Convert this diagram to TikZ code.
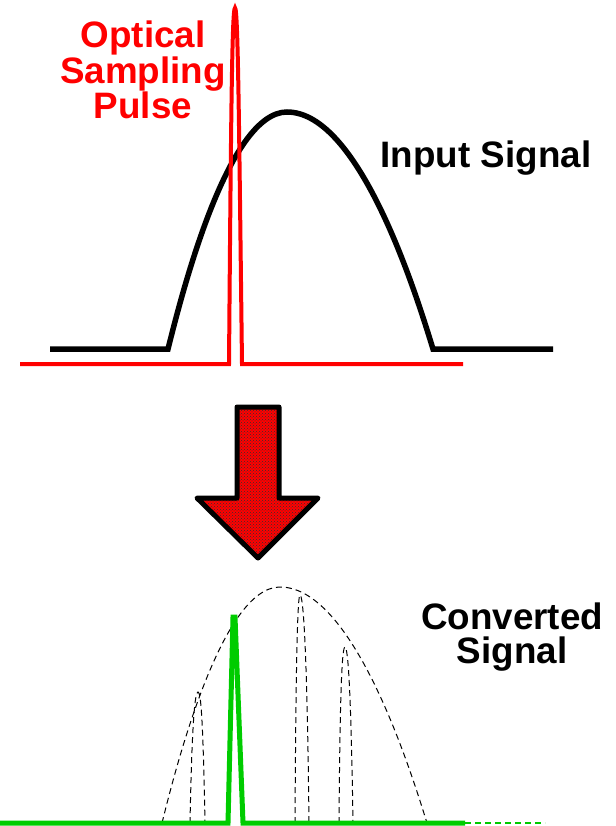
\documentclass[tikz,border=0pt]{standalone}
\usepackage{fontspec}
\setmainfont{Liberation Sans}
\usetikzlibrary{patterns}

\begin{document}
\begin{tikzpicture}[
  x=1pt, y=-1pt,
  sig/.style={line width=5.5pt, black},
  pulse/.style={line width=4pt, red},
  conv/.style={line width=5pt, green!80!black},
  env/.style={line width=1pt, dash pattern=on 6pt off 4pt, black},
  lbl/.style={font=\fontsize{36.8}{34}\selectfont\bfseries, align=center, inner sep=0pt},
]
\useasboundingbox (0,0) rectangle (615,826);

% input signal
\draw[sig] (50,349) -- (168,349) parabola bend (287,112) (433,349) -- (553,349);

% optical sampling pulse
\draw[pulse] (20,364) -- (229,364) .. controls (231,120) and (232,8) .. (235,8)
  .. controls (238,8) and (239,120) .. (242,364) -- (463,364);

\node[lbl, red]   (optlbl) at (143,70)  {Optical\\Sampling\\Pulse};
\node[lbl, black] (inlbl)  at (486,158) {Input Signal};

% conversion arrow
\path[preaction={fill=red}, pattern=crosshatch dots, pattern color=black!80,
      draw=black, line width=5pt, line join=round]
  (237,407) -- (279,407) -- (279,498) -- (318,498) -- (258,558)
  -- (197,498) -- (237,498) -- cycle;

% converted signal
\draw[env] (162,823) parabola bend (280,587) (427,823);
\draw[env] (190,823) .. controls (192,720) and (195,692) .. (198,692)
  .. controls (201,692) and (203,720) .. (205,823);
\draw[env] (295,823) .. controls (296,640) and (298,595) .. (300,595)
  .. controls (303,595) and (307,640) .. (309,823);
\draw[env] (339,823) .. controls (340,690) and (342,647) .. (345,647)
  .. controls (348,647) and (351,690) .. (353,823);

\draw[conv] (0,823) -- (228,823) -- (233,617) -- (235,617) -- (243,823) -- (465,823);
\draw[line width=2.5pt, dash pattern=on 6pt off 4pt, green!80!black] (465,823) -- (545,823);

\node[lbl, black] (convlbl) at (512,637) {Converted\\Signal};
\end{tikzpicture}
\end{document}
